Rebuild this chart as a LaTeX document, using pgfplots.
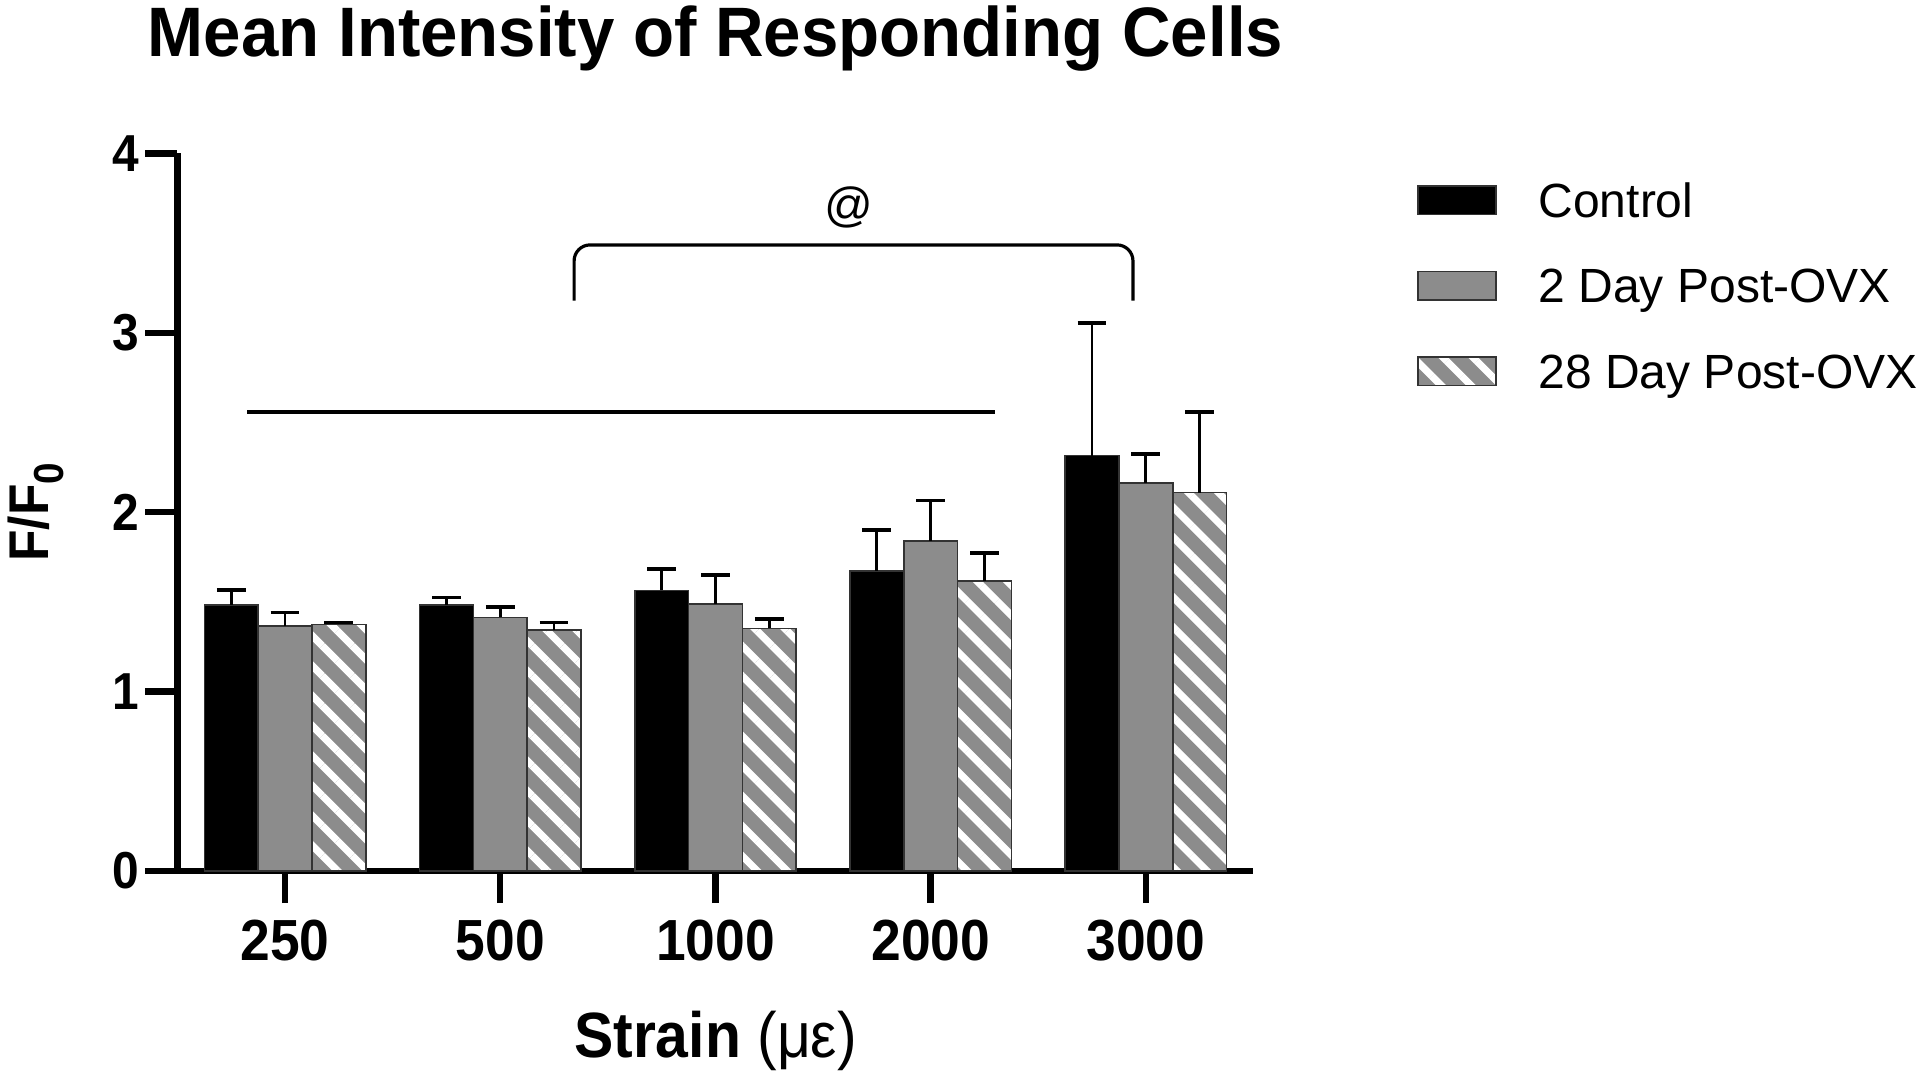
\documentclass[border=0pt]{standalone}
\usepackage{pgfplots}
\pgfplotsset{compat=1.18}
\usepackage{pgfplotstable}
\usetikzlibrary{patterns.meta}
\usepackage{fontspec}
\setmainfont{Liberation Sans}
\newfontfamily\condfont{Liberation Sans}[FakeStretch=0.92]
\newfontfamily\titlefont{Liberation Sans}[FakeStretch=0.96]
\definecolor{bargray}{HTML}{8C8C8C}
\definecolor{edge}{HTML}{333333}

\pgfplotstableread{
x c ce d2 d2e d28 d28e
0 1.484 0.082 1.366 0.076 1.375 0.011
1 1.484 0.040 1.414 0.058 1.343 0.043
2 1.564 0.120 1.490 0.160 1.352 0.052
3 1.673 0.228 1.840 0.226 1.616 0.155
4 2.315 0.741 2.164 0.159 2.109 0.451
}\datatable

\begin{document}
\begin{tikzpicture}
\begin{axis}[
  at={(44.375pt,50.5pt)}, anchor=south west,
  scale only axis, width=269pt, height=179.4pt,
  xmin=-0.5, xmax=4.5, ymin=0, ymax=4,
  axis x line*=bottom, axis y line*=left,
  axis line style={line width=1.6pt, -},
  major tick style={line width=1.6pt, black},
  major tick length=8pt, tick align=outside,
  xtick={0,1,2,3,4}, xticklabels={250,500,1000,2000,3000},
  ytick={0,1,2,3,4}, yticklabels={0,1,2,3,4},
  xticklabel style={font=\condfont\bfseries\fontsize{14.5}{17}\selectfont, inner sep=0pt, anchor=north, yshift=-4pt},
  yticklabel style={font=\condfont\bfseries\fontsize{13}{15}\selectfont, inner sep=0pt, anchor=east, xshift=-1.4pt},
  ybar=0pt, bar width=0.25,
  title={Mean Intensity of Responding Cells},
  title style={font=\titlefont\bfseries\fontsize{17.5}{20}\selectfont, at={(axis description cs:0.5,1.101)}, anchor=base, inner sep=0pt},
  xlabel={\textbf{Strain} (με)},
  xlabel style={font=\condfont\fontsize{16}{18}\selectfont, at={(axis description cs:0.5,-0.26)}, anchor=base, inner sep=0pt},
  ylabel={F/F\raisebox{-3.75pt}{\fontsize{10.5}{12}\selectfont 0}},
  ylabel style={font=\condfont\bfseries\fontsize{14}{16}\selectfont, at={(axis description cs:-0.1201,0.5)}, anchor=base, inner sep=0pt},
  error bars/error bar style={line width=0.7pt, black},
  error bars/error mark options={rotate=90, mark size=3.6pt, line width=0.9pt, black},
  legend style={at={(1.152,0.8156)}, anchor=west, draw=none, fill=none, inner sep=0pt, outer sep=0pt, row sep=9.4pt,
    font=\fontsize{12}{14}\selectfont, nodes={inner sep=0pt, text height=10.3pt, text depth=1.7pt}},
  legend cell align=left,
  legend image code/.code={\draw[#1] (0pt,-3.55pt) rectangle (19.5pt,3.55pt); \path (30pt,0pt);},
]
\addplot[fill=black, draw=edge, line width=0.4pt,
  error bars/.cd, y dir=plus, y explicit] table[x=x, y=c, y error=ce] {\datatable};
\addlegendentry{Control}
\addplot[fill=bargray, draw=edge, line width=0.4pt,
  error bars/.cd, y dir=plus, y explicit] table[x=x, y=d2, y error=d2e] {\datatable};
\addlegendentry{2 Day Post-OVX}
\addplot[preaction={fill=bargray}, pattern={Lines[angle=-45, distance=5.3pt, line width=1.8pt]}, pattern color=white, draw=edge, line width=0.4pt,
  error bars/.cd, y dir=plus, y explicit] table[x=x, y=d28, y error=d28e] {\datatable};
\addlegendentry{28 Day Post-OVX}
\draw[line width=1pt] (axis cs:-0.177,2.557) -- (axis cs:3.30,2.557);
\draw[line width=0.8pt, rounded corners=4pt] (axis cs:1.343,3.18) -- (axis cs:1.343,3.49) -- (axis cs:3.94,3.49) -- (axis cs:3.94,3.18);
\node[font=\fontsize{12}{14}\selectfont] at (axis cs:2.62,3.70) {@};
\end{axis}
\pgfresetboundingbox
\path[use as bounding box] (0,0) rectangle (480pt,268.25pt);
\end{tikzpicture}
\end{document}
